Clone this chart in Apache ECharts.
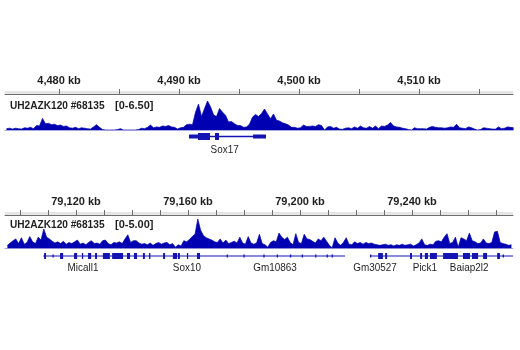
<!DOCTYPE html>
<html><head><meta charset="utf-8">
<script src="https://cdn.jsdelivr.net/npm/echarts@6/dist/echarts.min.js"></script>
<style>html,body{margin:0;padding:0;background:#fff}#c{width:520px;height:350px}</style>
</head><body><div id="c"></div>
<script>
// ---------- data ----------
const trackName = 'UH2AZK120 #68135';

// Panel 1 (region around Sox17), kb
const p1Range = [4475.5, 4517.83];
const p1Ticks = [4480, 4485, 4490, 4495, 4500, 4505, 4510, 4515];
const p1Labels = [4480, 4490, 4500, 4510];
const p1Scale = 6.5;
const p1BinStart = 4475.5;
const p1BinSize = 0.25;
const p1Coverage = [
  0.3,0.4,0.2,0.4,0.3,0.2,0.5,0.4,0.6,0.3,
  1.0,0.9,2.6,1.4,1.5,1.2,1.3,1.0,1.1,0.8,
  0.9,0.5,0.4,0.6,0.3,0.5,0.4,0.3,0.2,0.7,
  1.2,0.6,0.1,0.0,0.0,0.0,0.0,0.1,0.3,0.0,
  0.0,0.0,0.0,0.0,0.1,0.4,0.3,0.6,1.1,0.5,
  0.7,0.6,0.9,0.8,1.0,0.7,0.6,0.2,0.5,0.6,
  1.2,1.3,1.2,4.0,5.8,3.0,4.8,6.5,5.2,3.4,
  3.0,4.8,4.0,3.3,1.8,1.9,1.4,1.0,1.0,0.6,
  0.7,1.3,2.9,3.5,3.0,3.7,4.7,3.6,2.5,3.6,
  2.2,2.0,1.6,1.4,1.1,0.6,0.6,0.4,0.5,1.1,
  0.8,0.8,0.9,0.8,1.2,1.0,0.0,0.7,0.8,0.4,
  0.6,0.2,0.15,0.4,0.5,0.3,0.7,0.4,0.9,0.5,
  0.4,0.8,0.4,0.9,0.3,0.9,0.8,1.1,1.7,0.9,
  0.7,0.6,0.4,0.3,0.1,0.0,0.5,0.3,0.3,0.3,
  0.2,0.6,0.8,0.6,0.5,0.5,0.4,0.5,0.7,0.6,
  1.3,0.5,0.4,0.3,0.7,0.5,0.2,0.0,0.1,0.5,
  0.4,0.3,0.2,0.2,0.7,0.3,0.4,0.7,0.6,0.5
];
const p1GeneLines = [[4490.83, 4497.25]];
const p1Exons = [
  [4490.83, 4491.58, 'utr'],
  [4491.58, 4492.58, 'cds'],
  [4493.00, 4493.33, 'cds'],
  [4496.17, 4497.25, 'utr']
];
const p1GeneNames = ['Sox17'];
const p1GeneLabelPos = [4493.8];

// Panel 2 (region around Sox10), kb
const p2Range = [79094.64, 79276.07];
const p2Ticks = [79100, 79110, 79120, 79130, 79140, 79150, 79160, 79170, 79180, 79190, 79200, 79210, 79220, 79230, 79240, 79250, 79260, 79270];
const p2Labels = [79120, 79160, 79200, 79240];
const p2Scale = 5.0;
const p2BinStart = 79095;
const p2BinSize = 1;
const p2Coverage = [
  0.5,0.9,1.3,1.6,0.8,1.8,0.7,1.0,2.0,1.1,
  0.8,1.9,1.4,3.3,1.9,1.6,1.2,0.9,1.1,0.8,
  1.2,0.7,1.0,0.8,1.1,1.4,0.7,0.9,0.6,1.0,
  1.3,0.8,0.9,0.7,1.3,1.4,0.8,0.6,1.0,0.9,
  1.1,0.8,1.6,2.3,1.0,1.3,1.3,0.9,0.7,0.8,
  0.6,0.9,0.5,0.8,1.0,0.7,0.9,1.0,0.6,0.8,
  0.2,0.6,0.4,1.3,1.1,1.5,2.0,2.4,5.0,3.1,
  2.2,1.8,1.6,1.4,1.1,1.0,1.6,0.9,1.4,0.8,
  1.0,1.2,0.9,1.9,0.9,0.7,2.0,0.9,0.7,0.9,
  2.4,0.8,0.6,0.2,1.0,1.3,1.1,2.6,1.9,1.5,
  1.9,1.0,0.6,2.5,1.0,0.8,2.4,1.6,1.5,1.2,
  0.9,1.6,1.3,1.9,1.2,0.5,0.1,1.8,0.9,0.5,
  1.0,1.8,0.7,0.6,1.1,0.8,1.0,0.7,1.0,0.8,
  0.9,0.7,0.6,0.5,0.6,0.7,0.5,0.6,0.4,0.6,
  0.5,0.7,0.5,0.6,0.7,0.4,0.6,0.9,1.6,0.6,
  0.5,0.7,0.6,1.2,1.3,1.1,1.9,2.5,0.8,1.0,
  1.9,0.2,1.8,1.6,1.3,2.6,1.3,1.1,0.8,0.9,
  1.6,0.9,0.8,1.0,2.8,2.9,1.0,0.8,0.7,0.5,
  0.6
];
const p2GeneLines = [[79108.3, 79216.1], [79225.0, 79276.1]];
const p2Exons = [
  [79108.6,79109.3,'cds'],[79111.6,79111.9,'tick'],[79114.3,79115.4,'cds'],
  [79119.3,79120.4,'cds'],[79122.1,79122.5,'cds'],[79124.3,79125.4,'cds'],
  [79126.8,79127.5,'cds'],[79129.6,79132.1,'cds'],[79132.9,79136.8,'cds'],
  [79138.2,79139.3,'cds'],[79140.7,79141.8,'cds'],[79143.9,79144.6,'cds'],
  [79146.1,79146.5,'cds'],[79151.1,79151.8,'cds'],[79154.6,79156.1,'cds'],
  [79156.4,79157.1,'cds'],[79159.6,79160.0,'cds'],[79163.2,79164.3,'cds'],
  [79173.8,79174.1,'tick'],[79179.8,79180.1,'tick'],[79186.9,79187.2,'tick'],
  [79191.7,79192.0,'tick'],[79196.4,79196.7,'tick'],[79200.6,79200.9,'tick'],
  [79205.4,79205.7,'tick'],[79209.5,79209.8,'tick'],[79211.3,79211.6,'tick'],
  [79225.0,79225.4,'tick'],[79227.9,79229.6,'cds'],[79230.4,79231.1,'cds'],
  [79239.3,79240.0,'cds'],[79242.9,79243.6,'cds'],[79244.6,79245.7,'cds'],
  [79246.4,79248.9,'cds'],[79251.1,79256.4,'cds'],[79258.2,79260.7,'cds'],
  [79261.4,79263.6,'cds'],[79265.4,79266.8,'cds'],[79270.4,79271.4,'cds'],
  [79272.4,79272.8,'tick']
];
const p2GeneNames = ['Micall1', 'Sox10', 'Gm10863', 'Gm30527', 'Pick1', 'Baiap2l2'];
const p2GeneLabelPos = [79122.5, 79159.6, 79191.1, 79226.8, 79244.6, 79260.4];

// ---------- style ----------
const FONT = '"Liberation Sans", Arial, sans-serif';
const BLUE = '#0000b2';
const GENE = '#1414b4';
const TXT = '#1e1e1e';

function kbFmt(v) {
  return String(Math.round(v)).replace(/\B(?=(\d{3})+(?!\d))/g, ',') + ' kb';
}
function bins(start, size, vals) {
  return vals.map((v, i) => [start + size * (i + 0.5), v]);
}

const LEFT = 5, RIGHT = 7;
const layout = {
  p1: { ruler: 91, covTop: 101, covH: 29, geneTop: 130, geneH: 13, labelOff: 13.5, h: { cds: 7, utr: 4, tick: 3 }, lw: 1.5 },
  p2: { ruler: 212, covTop: 219, covH: 29.3, geneTop: 249.5, geneH: 13, labelOff: 11.5, h: { cds: 6, utr: 4, tick: 3 }, lw: 1 }
};

const grids = [], xAxes = [], yAxes = [], series = [];

function addPanel(L, range, ticks, labels, scale, cov, geneLines, exons, names, labelPos) {
  const gi = grids.length;
  grids.push({ left: LEFT, right: RIGHT, top: L.ruler, height: 3, show: true, backgroundColor: '#e6e6e6', borderWidth: 0 });
  xAxes.push({
    gridIndex: gi, type: 'value', position: 'top', min: range[0], max: range[1],
    axisLine: { show: true, lineStyle: { color: '#6e6e6e', width: 1 } },
    axisTick: { show: true, customValues: ticks, length: 5, inside: false, lineStyle: { color: '#6e6e6e' } },
    axisLabel: { show: true, customValues: labels, formatter: kbFmt, margin: 5, fontSize: 11, fontWeight: 'bold', color: TXT, fontFamily: FONT },
    splitLine: { show: false }
  });
  yAxes.push({ gridIndex: gi, show: false, min: 0, max: 1 });
  grids.push({ left: LEFT, right: RIGHT, top: L.covTop, height: L.covH });
  xAxes.push({
    gridIndex: gi + 1, type: 'value', min: range[0], max: range[1],
    axisLine: { show: true, lineStyle: { color: '#a9a9dc', width: 1 } },
    axisTick: { show: false }, axisLabel: { show: false }, splitLine: { show: false }
  });
  yAxes.push({ gridIndex: gi + 1, type: 'value', min: 0, max: scale, show: false, splitLine: { show: false } });
  series.push({
    type: 'line', xAxisIndex: gi + 1, yAxisIndex: gi + 1, data: cov,
    showSymbol: false, symbol: 'none', silent: true, animation: false,
    lineStyle: { color: BLUE, width: 0.7 },
    areaStyle: { color: BLUE, opacity: 1 }
  });
  grids.push({ left: LEFT, right: RIGHT, top: L.geneTop, height: L.geneH });
  xAxes.push({ gridIndex: gi + 2, type: 'value', min: range[0], max: range[1], show: false });
  yAxes.push({ gridIndex: gi + 2, type: 'value', min: 0, max: 1, show: false });
  series.push({
    type: 'custom', xAxisIndex: gi + 2, yAxisIndex: gi + 2, data: geneLines, animation: false, silent: true,
    encode: { x: [0, 1] },
    renderItem(p, api) {
      const a = api.coord([api.value(0), 0.5]), b = api.coord([api.value(1), 0.5]);
      return { type: 'line', shape: { x1: a[0], y1: a[1], x2: b[0], y2: b[1] }, style: { stroke: GENE, lineWidth: L.lw } };
    }
  });
  series.push({
    type: 'custom', xAxisIndex: gi + 2, yAxisIndex: gi + 2, data: exons.map(e => [e[0], e[1]]), animation: false, silent: true,
    encode: { x: [0, 1] },
    renderItem(p, api) {
      const a = api.coord([api.value(0), 0.5]), b = api.coord([api.value(1), 0.5]);
      const hh = L.h[exons[p.dataIndex][2]];
      return { type: 'rect', shape: { x: a[0], y: a[1] - hh / 2, width: Math.max(b[0] - a[0], 1.3), height: hh }, style: { fill: GENE } };
    }
  });
  series.push({
    type: 'custom', xAxisIndex: gi + 2, yAxisIndex: gi + 2, data: labelPos.map(v => [v]), animation: false, silent: true,
    encode: { x: 0 }, clip: false,
    renderItem(p, api) {
      const a = api.coord([api.value(0), 0.5]);
      return { type: 'text', x: a[0], y: a[1] + L.labelOff, scaleX: 0.9,
        style: { text: names[p.dataIndex], fill: TXT, font: '11px ' + FONT, align: 'center', verticalAlign: 'middle' } };
    }
  });
}

addPanel(layout.p1, p1Range, p1Ticks, p1Labels, p1Scale, bins(p1BinStart, p1BinSize, p1Coverage), p1GeneLines, p1Exons, p1GeneNames, p1GeneLabelPos);
addPanel(layout.p2, p2Range, p2Ticks, p2Labels, p2Scale, bins(p2BinStart, p2BinSize, p2Coverage), p2GeneLines, p2Exons, p2GeneNames, p2GeneLabelPos);

function titleGraphics(y, scale) {
  return [
    { type: 'text', left: 10, top: y - 6.5, scaleX: 0.92, silent: true, style: { text: trackName, fill: TXT, font: 'bold 11px ' + FONT } },
    { type: 'text', left: 115, top: y - 6.5, silent: true, style: { text: '[0-' + scale.toFixed(2) + ']', fill: TXT, font: 'bold 11px ' + FONT } }
  ];
}

const chart = echarts.init(document.getElementById('c'), null, { renderer: 'canvas' });
chart.setOption({
  animation: false,
  backgroundColor: '#ffffff',
  grid: grids, xAxis: xAxes, yAxis: yAxes, series: series,
  graphic: titleGraphics(106.5, p1Scale).concat(titleGraphics(225.5, p2Scale))
});
</script>
</body></html>
